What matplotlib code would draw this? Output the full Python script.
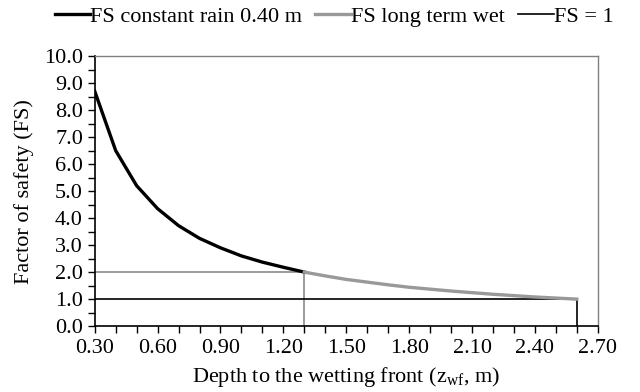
import matplotlib
matplotlib.use('Agg')
import matplotlib.pyplot as plt
from matplotlib.ticker import MultipleLocator, FormatStrFormatter

plt.rcParams['font.family'] = ['Liberation Serif', 'DejaVu Serif']
plt.rcParams['mathtext.fontset'] = 'custom'
plt.rcParams['mathtext.rm'] = 'Liberation Serif'
plt.rcParams['mathtext.it'] = 'Liberation Serif:italic'

# FS under constant rain of 0.40 m
depth_rain = [0.3, 0.4, 0.5, 0.6, 0.7, 0.8, 0.9, 1.0, 1.1, 1.2, 1.3]
fs_rain = [8.7, 6.5, 5.2, 4.35, 3.72, 3.25, 2.9, 2.6, 2.37, 2.18, 2.0]

# FS long term wet
depth_wet = [1.3, 1.4, 1.5, 1.6, 1.7, 1.8, 1.9, 2.0, 2.1, 2.2, 2.3, 2.4, 2.5, 2.6]
fs_wet = [2.0, 1.86, 1.73, 1.63, 1.53, 1.44, 1.37, 1.30, 1.24, 1.18, 1.13, 1.08, 1.04, 1.0]

x_start, x_crit, x_end = 0.3, 1.3, 2.6
fs_crit = 2.0
fs_one = 1.0

fs = 16

fig = plt.figure(figsize=(6.4, 3.92), dpi=100)
ax = fig.add_axes([0.148, 0.168, 0.786, 0.689])

# reference lines
ax.plot([x_start, x_crit], [fs_crit, fs_crit], color='#808080', lw=1.1, zorder=2)
ax.plot([x_crit, x_crit], [0, fs_crit], color='#808080', lw=1.1, zorder=2)
ax.plot([x_start, x_end], [fs_one, fs_one], color='black', lw=1.2, zorder=2, label='FS = 1')
ax.plot([x_end, x_end], [0, fs_one], color='black', lw=1.2, zorder=2)

ax.plot(depth_rain, fs_rain, color='black', lw=2.4, zorder=3, label='FS constant rain 0.40 m')
ax.plot(depth_wet, fs_wet, color='#999999', lw=2.4, zorder=3, label='FS long term wet')

ax.set_xlim(0.3, 2.7)
ax.set_ylim(0, 10)
ax.xaxis.set_major_locator(MultipleLocator(0.3))
ax.xaxis.set_minor_locator(MultipleLocator(0.1))
ax.yaxis.set_major_locator(MultipleLocator(1.0))
ax.yaxis.set_minor_locator(MultipleLocator(0.5))
ax.xaxis.set_major_formatter(FormatStrFormatter('%.2f'))
ax.yaxis.set_major_formatter(FormatStrFormatter('%.1f'))
ax.tick_params(axis='both', which='major', labelsize=fs, length=5, width=1, direction='out')
ax.tick_params(axis='both', which='minor', length=5, width=1, direction='out')
ax.tick_params(axis='x', which='major', pad=4)

for s in ['top', 'right']:
    ax.spines[s].set_color('#808080')
    ax.spines[s].set_linewidth(1.0)
for s in ['left', 'bottom']:
    ax.spines[s].set_color('black')
    ax.spines[s].set_linewidth(1.2)

ax.set_xlabel('Depth to the wetting front (z$_{\\mathrm{wf}}$, m)', fontsize=fs, labelpad=5)
ax.set_ylabel('Factor of safety (FS)', fontsize=fs, labelpad=7)

handles, labels = ax.get_legend_handles_labels()
order = [1, 2, 0]
fig.legend([handles[i] for i in order], [labels[i] for i in order],
           loc='upper center', bbox_to_anchor=(0.522, 1.035), ncol=3, frameon=False,
           fontsize=fs, handlelength=1.6, handletextpad=0.0, columnspacing=0.6)

fig.savefig('out.png', dpi=100)
